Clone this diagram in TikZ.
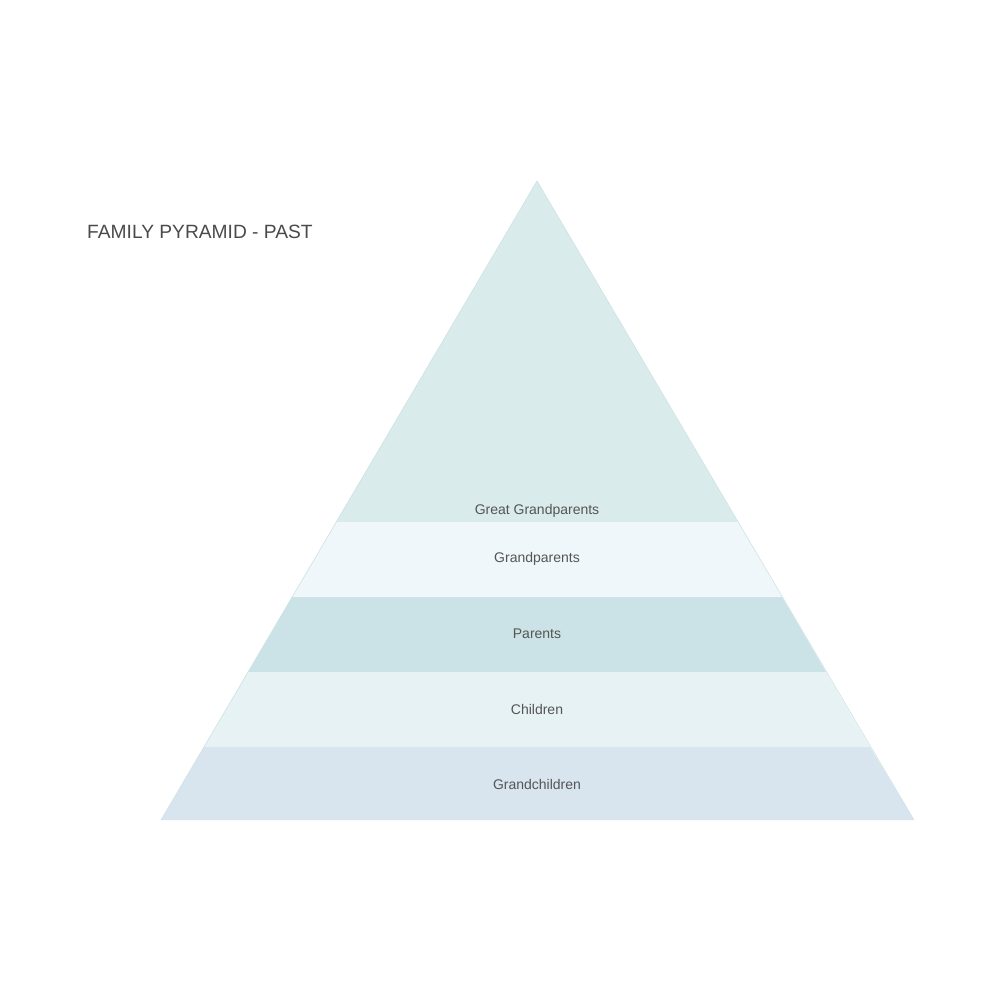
\documentclass[tikz,border=0pt]{standalone}
\usepackage{fontspec}
\setmainfont{Liberation Sans}
\begin{document}
\begin{tikzpicture}[x=1pt,y=-1pt,
  band/.style={line join=miter},
  edge/.style={draw=edgec,line width=0.6pt},
  lbl/.style={text=txtc,font=\fontsize{14}{16}\selectfont,inner sep=0pt,anchor=center},
  ttl/.style={text=ttlc,font=\fontsize{19.2}{22}\selectfont,inner sep=0pt,anchor=west}]
\definecolor{c1}{HTML}{D9EBEB}
\definecolor{c2}{HTML}{EFF7FA}
\definecolor{c3}{HTML}{CBE3E6}
\definecolor{c4}{HTML}{E6F2F4}
\definecolor{c5}{HTML}{D8E4EE}
\definecolor{edgec}{HTML}{CDE3E6}
\definecolor{txtc}{HTML}{555555}
\definecolor{ttlc}{HTML}{4A4A4A}
\useasboundingbox (0,0) rectangle (1000,1000);
\fill[white] (0,0) rectangle (1000,1000);
\coordinate (apex) at (537,181);
\coordinate (l1) at (336,522); \coordinate (r1) at (738,522);
\coordinate (l2) at (292,597); \coordinate (r2) at (782,597);
\coordinate (l3) at (248,672); \coordinate (r3) at (826,672);
\coordinate (l4) at (204,747); \coordinate (r4) at (870,747);
\coordinate (l5) at (161,820); \coordinate (r5) at (914,820);
\fill[band,c1] (apex) -- (r1) -- (l1) -- cycle;
\fill[band,c2] (l1) -- (r1) -- (r2) -- (l2) -- cycle;
\fill[band,c3] (l2) -- (r2) -- (r3) -- (l3) -- cycle;
\fill[band,c4] (l3) -- (r3) -- (r4) -- (l4) -- cycle;
\fill[band,c5] (l4) -- (r4) -- (r5) -- (l5) -- cycle;
\draw[edge] (l5) -- (apex) -- (r5);
\node[lbl] (gg) at (537,511) {Great Grandparents};
\node[lbl] (gp) at (537,559) {Grandparents};
\node[lbl] (pa) at (537,634) {Parents};
\node[lbl] (ch) at (537,709) {Children};
\node[lbl] (gc) at (537,784) {Grandchildren};
\node[ttl] (title) at (87,232) {FAMILY PYRAMID - PAST};
\end{tikzpicture}
\end{document}
